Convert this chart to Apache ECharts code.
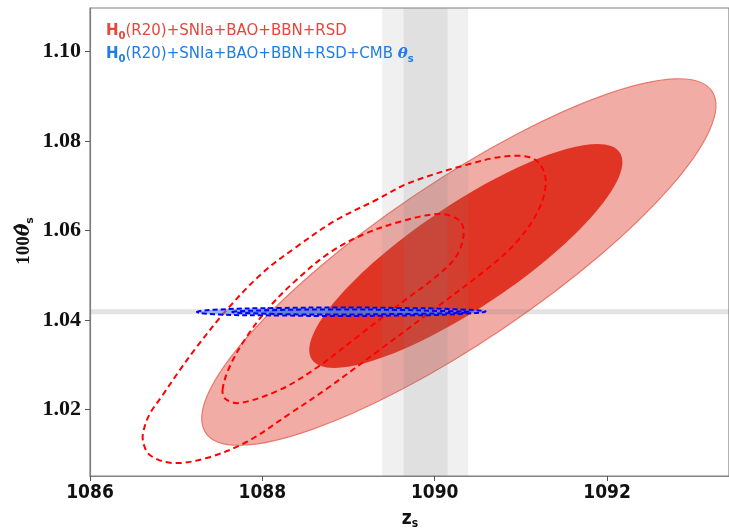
<!DOCTYPE html>
<html><head><meta charset="utf-8">
<script src="https://cdn.jsdelivr.net/npm/echarts@6/dist/echarts.min.js"></script>
<style>html,body{margin:0;padding:0;background:#fff}#c{width:729px;height:529px}</style>
</head><body><div id="c"></div>
<script>
// ---- axis ticks ----
const xTicks = [1086, 1088, 1090, 1092];
const yTicks = [1.02, 1.04, 1.06, 1.08, 1.10];
const xRange = [1086, 1093.415];
const yRange = [1.00514, 1.10972];

// ---- H0(R20)+SNIa+BAO+BBN+RSD filled contours, read as ellipses (z_s, 100theta_s):
//      [centre, tip of major axis, tip of minor axis]
const red2Center = [1090.280, 1.052961];
const red2Major  = [1093.217, 1.091131];
const red2Minor  = [1090.797, 1.038128];
const red1Center = [1090.361, 1.054301];
const red1Major  = [1092.147, 1.077441];
const red1Minor  = [1090.692, 1.044761];
// ---- dashed red contours (2-sigma outer, 1-sigma inner) ----
const dash2X = [1086.613,1086.636,1086.706,1086.844,1087.018,1087.238,1087.585,1088.001,1088.394,1088.857,1089.320,1089.702,1090.361,1090.858,1091.171,1091.287,1091.205,1090.939,1090.592,1089.933,1089.389,1088.776,1088.313,1087.816,1087.353,1086.960,1086.694];
const dash2Y = [1.013185,1.016313,1.019442,1.023240,1.028157,1.033967,1.042235,1.050503,1.056313,1.062346,1.066815,1.070614,1.074636,1.076647,1.075754,1.071284,1.064581,1.057206,1.051173,1.041564,1.033743,1.025028,1.018995,1.012738,1.009163,1.008045,1.009833];
const dash1X = [1087.538,1087.619,1087.816,1088.082,1088.394,1088.776,1089.158,1089.586,1090.049,1090.280,1090.338,1090.245,1089.968,1089.702,1089.158,1088.626,1088.198,1087.735,1087.573];
const dash1Y = [1.024358,1.029497,1.036201,1.042905,1.048938,1.054972,1.058994,1.061899,1.063687,1.062346,1.059441,1.054078,1.048938,1.045140,1.037095,1.029274,1.024358,1.021453,1.022347];
// ---- blue contours (+CMB theta_s) ----
const blue2X = [1087.24,1087.50,1088.20,1088.89,1089.59,1090.16,1090.59,1090.16,1089.59,1088.89,1088.20,1087.50];
const blue2Y = [1.04179,1.04235,1.04268,1.04279,1.04268,1.04246,1.04190,1.04123,1.04101,1.04089,1.04101,1.04123];
const blue1X = [1087.65,1088.20,1088.89,1089.59,1090.05,1090.40,1090.05,1089.59,1088.89,1088.20];
const blue1Y = [1.04179,1.04224,1.04235,1.04224,1.04202,1.04179,1.04146,1.04134,1.04123,1.04134];
// ---- grey bands: z_s (outer lo, inner lo, inner hi, outer hi), theta_s (lo, hi) ----
const bandZ = [1089.39, 1089.64, 1090.15, 1090.39];
const bandTheta = [1.0413, 1.0424];

function ellipseSeries(center, major, minor, style, z) {
  return {
    type: 'custom', coordinateSystem: 'cartesian2d', z: z, silent: true, clip: true,
    data: [center, major, minor],
    renderItem: function (params, api) {
      if (params.dataIndex !== 0) return null;
      const c = api.coord(center), m = api.coord(major), n = api.coord(minor);
      const rx = Math.hypot(m[0] - c[0], m[1] - c[1]);
      const ry = Math.hypot(n[0] - c[0], n[1] - c[1]);
      const rot = Math.atan2(-(m[1] - c[1]), m[0] - c[0]);
      return { type: 'ellipse', x: c[0], y: c[1], rotation: rot,
        shape: { cx: 0, cy: 0, rx: rx, ry: ry }, style: style };
    }
  };
}
function poly(xs, ys, style, z, smooth) {
  return {
    type: 'custom', coordinateSystem: 'cartesian2d', z: z, silent: true, clip: true,
    data: xs.map((x, i) => [x, ys[i]]),
    renderItem: function (params, api) {
      if (params.dataIndex !== 0) return null;
      const pts = xs.map((x, i) => api.coord([x, ys[i]]));
      return { type: 'polygon', shape: { points: pts, smooth: smooth }, style: style };
    }
  };
}
function bandsSeries() {
  return {
    type: 'custom', coordinateSystem: 'cartesian2d', z: 5, silent: true, clip: true,
    data: [[bandZ[0], bandTheta[0]]],
    renderItem: function (params, api) {
      const cs = params.coordSys;
      const xa = api.coord([bandZ[0], bandTheta[0]])[0];
      const xb = api.coord([bandZ[1], bandTheta[0]])[0];
      const xc = api.coord([bandZ[2], bandTheta[0]])[0];
      const xd = api.coord([bandZ[3], bandTheta[0]])[0];
      const ya = api.coord([bandZ[0], bandTheta[1]])[1];
      const yb = api.coord([bandZ[0], bandTheta[0]])[1];
      return { type: 'group', children: [
        { type: 'rect', shape: { x: xa, y: cs.y, width: xd - xa, height: cs.height }, style: { fill: 'rgba(128,128,128,0.12)' } },
        { type: 'rect', shape: { x: xb, y: cs.y, width: xc - xb, height: cs.height }, style: { fill: 'rgba(128,128,128,0.14)' } },
        { type: 'rect', shape: { x: cs.x, y: ya, width: cs.width, height: yb - ya }, style: { fill: 'rgba(128,128,128,0.22)' } }
      ] };
    }
  };
}

const chart = echarts.init(document.getElementById('c'), null, { renderer: 'canvas' });
const red = '#e8453c', blue = '#1f7de6';
chart.setOption({
  animation: false,
  backgroundColor: '#fff',
  grid: { left: 90, top: 8, right: -2, bottom: 53, show: true, borderColor: '#808080', borderWidth: 1.2, backgroundColor: 'transparent' },
  xAxis: {
    type: 'value', min: xRange[0], max: xRange[1],
    axisLine: { show: true, lineStyle: { color: '#808080', width: 1.2 } },
    axisTick: { show: true, customValues: xTicks, length: 5, lineStyle: { color: '#555', width: 1 } },
    axisLabel: { customValues: xTicks, margin: 8, color: '#111', fontSize: 19, fontWeight: 'bold',
      fontFamily: "'Liberation Sans Narrow', 'DejaVu Sans Condensed', sans-serif", formatter: v => String(v) },
    splitLine: { show: false }
  },
  yAxis: {
    type: 'value', min: yRange[0], max: yRange[1],
    axisLine: { show: true, lineStyle: { color: '#808080', width: 1.2 } },
    axisTick: { show: true, customValues: yTicks, length: 5, lineStyle: { color: '#555', width: 1 } },
    axisLabel: { customValues: yTicks, margin: 9, color: '#111', fontSize: 22, fontWeight: 'bold',
      fontFamily: "'Liberation Serif', 'DejaVu Serif', serif", formatter: v => v.toFixed(2) },
    splitLine: { show: false }
  },
  series: [
    ellipseSeries(red2Center, red2Major, red2Minor, { fill: '#f2aca6', stroke: '#e8786e', lineWidth: 1.2 }, 2),
    ellipseSeries(red1Center, red1Major, red1Minor, { fill: '#e03524', stroke: null }, 3),
    bandsSeries(),
    poly(dash2X, dash2Y, { fill: 'none', stroke: '#ff0000', lineWidth: 2, lineDash: [6, 4] }, 6, 0.35),
    poly(dash1X, dash1Y, { fill: 'none', stroke: '#ff0000', lineWidth: 2, lineDash: [6, 4] }, 6, 0.35),
    poly(blue2X, blue2Y, { fill: 'rgba(90,140,225,0.55)', stroke: '#0000ff', lineWidth: 2, lineDash: [5, 3] }, 7, 0.45),
    poly(blue1X, blue1Y, { fill: 'rgba(70,120,215,0.6)', stroke: '#0000ff', lineWidth: 2, lineDash: [5, 3] }, 8, 0.45)
  ],
  graphic: [
    { type: 'text', left: 106, top: 24, z: 20, style: {
      text: '{h|H}{s|0}{n|(R20)+SNIa+BAO+BBN+RSD}',
      rich: {
        h: { fill: red, fontSize: 15, fontWeight: 'bold', fontFamily: 'DejaVu Sans', lineHeight: 20 },
        s: { fill: red, fontSize: 10, fontWeight: 'bold', fontFamily: 'DejaVu Sans', lineHeight: 20, verticalAlign: 'bottom' },
        n: { fill: red, fontSize: 15, fontFamily: 'DejaVu Sans', lineHeight: 20 }
      } } },
    { type: 'text', left: 106, top: 47, z: 20, style: {
      text: '{h|H}{s|0}{n|(R20)+SNIa+BAO+BBN+RSD+CMB }{t|θ}{s|s}',
      rich: {
        h: { fill: blue, fontSize: 15, fontWeight: 'bold', fontFamily: 'DejaVu Sans', lineHeight: 20 },
        s: { fill: blue, fontSize: 10, fontWeight: 'bold', fontFamily: 'DejaVu Sans', lineHeight: 20, verticalAlign: 'bottom' },
        n: { fill: blue, fontSize: 15, fontFamily: 'DejaVu Sans', lineHeight: 20 },
        t: { fill: blue, fontSize: 15, fontWeight: 'bold', fontStyle: 'italic', fontFamily: 'DejaVu Serif', lineHeight: 20 }
      } } },
    { type: 'text', x: 410, y: 519, z: 20, style: {
      text: '{z|z}{s|s}', align: 'center', verticalAlign: 'middle',
      rich: {
        z: { fill: '#111', fontSize: 19, fontWeight: 'bold', fontFamily: "'Liberation Sans Narrow', 'DejaVu Sans Condensed', sans-serif", lineHeight: 22 },
        s: { fill: '#111', fontSize: 12, fontWeight: 'bold', fontFamily: "'Liberation Sans Narrow', 'DejaVu Sans Condensed', sans-serif", lineHeight: 22, verticalAlign: 'bottom' }
      } } },
    { type: 'text', x: 24, y: 241, rotation: Math.PI / 2, z: 20, style: {
      text: '{a|100}{t|θ̂}{s|s}', align: 'center', verticalAlign: 'middle',
      rich: {
        a: { fill: '#111', fontSize: 19, fontWeight: 'bold', fontFamily: "'Liberation Serif', serif", lineHeight: 24 },
        t: { fill: '#111', fontSize: 19, fontWeight: 'bold', fontStyle: 'italic', fontFamily: "'DejaVu Serif', serif", lineHeight: 24 },
        s: { fill: '#111', fontSize: 11, fontWeight: 'bold', fontFamily: "'DejaVu Sans', sans-serif", lineHeight: 24, verticalAlign: 'bottom' }
      } } }
  ]
});
</script>
</body></html>
